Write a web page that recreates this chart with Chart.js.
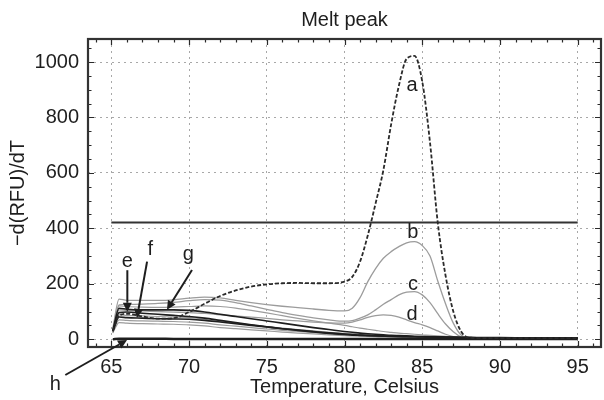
<!DOCTYPE html>
<html>
<head>
<meta charset="utf-8">
<title>Melt peak</title>
<script src="https://cdn.jsdelivr.net/npm/chart.js@4.4.1/dist/chart.umd.min.js"></script>
<style>
  html, body { margin: 0; padding: 0; background: #fff; }
  #wrap { width: 604px; height: 400px; }
</style>
</head>
<body>
<div id="wrap"><canvas id="meltChart" width="604" height="400"></canvas></div>
<script>
// Temperature samples (Celsius) shared by every melt curve
const temps = [65.1, 65.5, 66, 67, 68, 69, 70, 71, 72, 73, 74, 75, 76, 77, 78, 79, 80, 80.5, 81, 81.5,
               82, 82.5, 83, 83.5, 84, 84.5, 85, 85.5, 86, 86.5, 87, 87.5, 88, 89, 90, 92, 95];

// -d(RFU)/dT for each well
const curveA = [30, 85, 92, 82, 74, 76, 98, 128, 156, 176, 190, 198, 202, 203, 202, 202, 208, 225, 280, 375,
                490, 610, 775, 915, 1012, 1022, 930, 710, 420, 230, 100, 28, 6, 4, 4, 4, 4];
const curveB = [40, 145, 140, 140, 140, 142, 148, 152, 149, 140, 132, 125, 119, 114, 109, 104, 102, 112, 150, 208,
                255, 292, 316, 334, 348, 352, 338, 300, 210, 128, 58, 15, 3, 2, 2, 2, 2];
const curveC = [38, 124, 126, 127, 129, 133, 139, 143, 141, 132, 120, 108, 96, 86, 77, 70, 65, 67, 76, 88,
                106, 126, 143, 160, 170, 172, 160, 132, 92, 55, 27, 8, 2, 2, 2, 2, 2];
const curveD = [34, 106, 104, 102, 100, 98, 96, 93, 88, 84, 80, 75, 70, 66, 62, 59, 58, 62, 70, 79,
                85, 88, 86, 80, 70, 60, 52, 42, 30, 18, 9, 3, 2, 2, 2, 2, 2];
const curveE = [30, 96, 98, 94, 90, 86, 82, 76, 68, 60, 52, 45, 38, 32, 26, 21, 17, 15, 14, 13,
                12, 11, 10, 10, 9, 9, 8, 8, 7, 7, 6, 6, 5, 5, 5, 4, 4];
const curveF = [28, 80, 78, 76, 74, 73, 72, 68, 62, 56, 50, 44, 38, 33, 28, 23, 19, 17, 15, 14,
                13, 12, 11, 10, 10, 9, 9, 8, 8, 7, 7, 6, 6, 5, 5, 5, 4];
const curveG = [32, 112, 108, 106, 106, 106, 104, 98, 90, 82, 74, 66, 58, 50, 42, 35, 28, 25, 22, 20,
                18, 16, 14, 13, 12, 11, 10, 9, 9, 8, 8, 7, 7, 6, 6, 5, 5];
const curveH = [0, 2, 2, 2, 2, 1, 1, 1, 1, 1, 1, 1, 1, 1, 1, 1, 1, 1, 1, 1,
                1, 1, 1, 1, 1, 1, 1, 1, 1, 1, 1, 1, 1, 1, 1, 1, 1];
const extra1 = [30, 120, 118, 116, 115, 116, 118, 120, 118, 112, 104, 95, 85, 75, 66, 58, 50, 45, 40, 36,
                32, 28, 25, 22, 20, 18, 16, 14, 12, 10, 8, 6, 5, 4, 4, 3, 3];
const extra2 = [26, 70, 68, 66, 65, 64, 62, 58, 52, 47, 42, 37, 32, 28, 24, 20, 16, 14, 13, 12,
                11, 10, 9, 8, 8, 7, 7, 6, 6, 5, 5, 4, 4, 4, 3, 3, 3];
const extra3 = [24, 60, 58, 56, 55, 54, 52, 48, 42, 38, 34, 30, 26, 22, 19, 16, 13, 12, 11, 10,
                9, 8, 8, 7, 7, 6, 6, 5, 5, 5, 4, 4, 4, 3, 3, 3, 3];
const extra4 = [22, 88, 86, 84, 82, 80, 78, 72, 64, 58, 52, 46, 40, 35, 30, 25, 21, 19, 17, 15,
                13, 12, 11, 10, 9, 8, 8, 7, 6, 6, 5, 5, 4, 4, 3, 3, 3];

// Threshold line
const thresholdTemps = [65, 95];
const thresholdLevel = 421;

// Axis ticks
const xTickValues = [65, 70, 75, 80, 85, 90, 95];
const yTickValues = [0, 200, 400, 600, 800, 1000];

const GRAY = '#9c9c9c';
const DARK = '#1e1e1e';
const FONT = '"Liberation Sans", Arial, Helvetica, sans-serif';

function toPoints(values) {
    return values.map((v, i) => ({ x: temps[i], y: v }));
}

function curve(label, values, color, width, dash) {
    return {
        label: label,
        data: toPoints(values),
        borderColor: color,
        borderWidth: width,
        borderDash: dash || [],
        pointRadius: 0,
        fill: false,
        cubicInterpolationMode: 'monotone'
    };
}

// Letters and arrows pointing at the curves (data units)
const curveLabels = [
    { text: 'a', x: 84.34, y: 914 },
    { text: 'b', x: 84.4, y: 384 },
    { text: 'c', x: 84.4, y: 196 },
    { text: 'd', x: 84.34, y: 88 },
    { text: 'e', x: 66.03, y: 279 },
    { text: 'f', x: 67.5, y: 322 },
    { text: 'g', x: 69.95, y: 304 },
    { text: 'h', x: 61.4, y: -165 }
];
const arrows = [
    { from: [66.03, 249], to: [66.03, 99] },
    { from: [67.3, 280], to: [66.65, 77] },
    { from: [70.19, 250], to: [68.58, 106] },
    { from: [62.04, -129], to: [66.01, -3] }
];

// Inward tick marks on all four sides plus the heavy frame
const frameTicks = {
    id: 'frameTicks',
    afterDatasetsDraw(chart) {
        const { ctx, chartArea: { left, right, top, bottom }, scales: { x, y } } = chart;
        ctx.save();
        ctx.strokeStyle = '#2a2a2a';
        ctx.lineWidth = 1.2;
        ctx.beginPath();
        for (let t = 64; t <= 96; t++) {
            const px = Math.round(x.getPixelForValue(t)) + 0.5;
            const len = t % 5 === 0 ? 6 : 3.5;
            ctx.moveTo(px, bottom); ctx.lineTo(px, bottom - len);
            ctx.moveTo(px, top); ctx.lineTo(px, top + len);
        }
        for (let v = 0; v <= 1050; v += 50) {
            const py = Math.round(y.getPixelForValue(v)) + 0.5;
            const len = v % 200 === 0 ? 6 : 3.5;
            ctx.moveTo(left, py); ctx.lineTo(left + len, py);
            ctx.moveTo(right, py); ctx.lineTo(right - len, py);
        }
        ctx.stroke();
        ctx.lineWidth = 2.2;
        ctx.strokeStyle = '#333';
        ctx.strokeRect(left, top, right - left, bottom - top);
        ctx.restore();
    }
};

const annotate = {
    id: 'annotate',
    afterDraw(chart) {
        const { ctx, scales: { x, y } } = chart;
        ctx.save();
        ctx.fillStyle = DARK;
        ctx.font = '20px ' + FONT;
        ctx.textAlign = 'center';
        ctx.textBaseline = 'middle';
        curveLabels.forEach(l => {
            ctx.fillText(l.text, x.getPixelForValue(l.x), y.getPixelForValue(l.y));
        });
        ctx.strokeStyle = DARK;
        ctx.lineWidth = 2;
        arrows.forEach(a => {
            const x0 = x.getPixelForValue(a.from[0]), y0 = y.getPixelForValue(a.from[1]);
            const x1 = x.getPixelForValue(a.to[0]), y1 = y.getPixelForValue(a.to[1]);
            const ang = Math.atan2(y1 - y0, x1 - x0);
            const head = 9, half = 4.5;
            const bx = x1 - head * Math.cos(ang), by = y1 - head * Math.sin(ang);
            ctx.beginPath();
            ctx.moveTo(x0, y0);
            ctx.lineTo(bx, by);
            ctx.stroke();
            ctx.beginPath();
            ctx.moveTo(x1, y1);
            ctx.lineTo(bx + half * Math.sin(ang), by - half * Math.cos(ang));
            ctx.lineTo(bx - half * Math.sin(ang), by + half * Math.cos(ang));
            ctx.closePath();
            ctx.fill();
        });
        ctx.restore();
    }
};

new Chart(document.getElementById('meltChart'), {
    type: 'line',
    data: {
        datasets: [
            curve('a', curveA, '#2a2a2a', 1.8, [4, 2]),
            curve('e', curveE, DARK, 1.6),
            curve('f', curveF, DARK, 1.6),
            curve('g', curveG, DARK, 1.6),
            curve('h', curveH, DARK, 2.4),
            {
                label: 'threshold',
                data: thresholdTemps.map(t => ({ x: t, y: thresholdLevel })),
                borderColor: '#333',
                borderWidth: 1.8,
                pointRadius: 0,
                fill: false
            },
            curve('b', curveB, GRAY, 1.3),
            curve('c', curveC, GRAY, 1.3),
            curve('d', curveD, GRAY, 1.3),
            curve('m1', extra1, GRAY, 1.2),
            curve('m2', extra2, GRAY, 1.2),
            curve('m3', extra3, GRAY, 1.2),
            curve('m4', extra4, GRAY, 1.2)
        ]
    },
    options: {
        responsive: false,
        animation: false,
        layout: { padding: { left: 0, right: 3, top: 0, bottom: 0 } },
        plugins: {
            legend: { display: false },
            tooltip: { enabled: false },
            title: {
                display: true,
                text: 'Melt peak',
                fullSize: false,
                color: DARK,
                font: { family: FONT, size: 20, weight: 'normal' },
                padding: { top: 8, bottom: 7 }
            }
        },
        scales: {
            x: {
                type: 'linear',
                min: 63.5,
                max: 96.5,
                afterBuildTicks: s => { s.ticks = xTickValues.map(v => ({ value: v })); },
                afterFit: s => { s.height = 53; },
                grid: { color: '#a8a8a8', lineWidth: 1, drawTicks: false },
                border: { display: false, dash: [2, 4] },
                ticks: { color: DARK, padding: 8, maxRotation: 0, font: { family: FONT, size: 20 } },
                title: {
                    display: true,
                    text: 'Temperature, Celsius',
                    color: DARK,
                    font: { family: FONT, size: 20 },
                    padding: { top: 0, bottom: 1 }
                }
            },
            y: {
                min: -28,
                max: 1083,
                afterBuildTicks: s => { s.ticks = yTickValues.map(v => ({ value: v })); },
                afterFit: s => { s.width = 88; },
                grid: { color: '#a8a8a8', lineWidth: 1, drawTicks: false },
                border: { display: false, dash: [2, 4] },
                ticks: {
                    color: DARK,
                    padding: 9,
                    font: { family: FONT, size: 20 },
                    callback: v => String(v)
                },
                title: {
                    display: true,
                    text: '\u2212d(RFU)/dT',
                    color: DARK,
                    font: { family: FONT, size: 20 },
                    padding: { top: 6, bottom: 0 }
                }
            }
        }
    },
    plugins: [frameTicks, annotate]
});
</script>
</body>
</html>
